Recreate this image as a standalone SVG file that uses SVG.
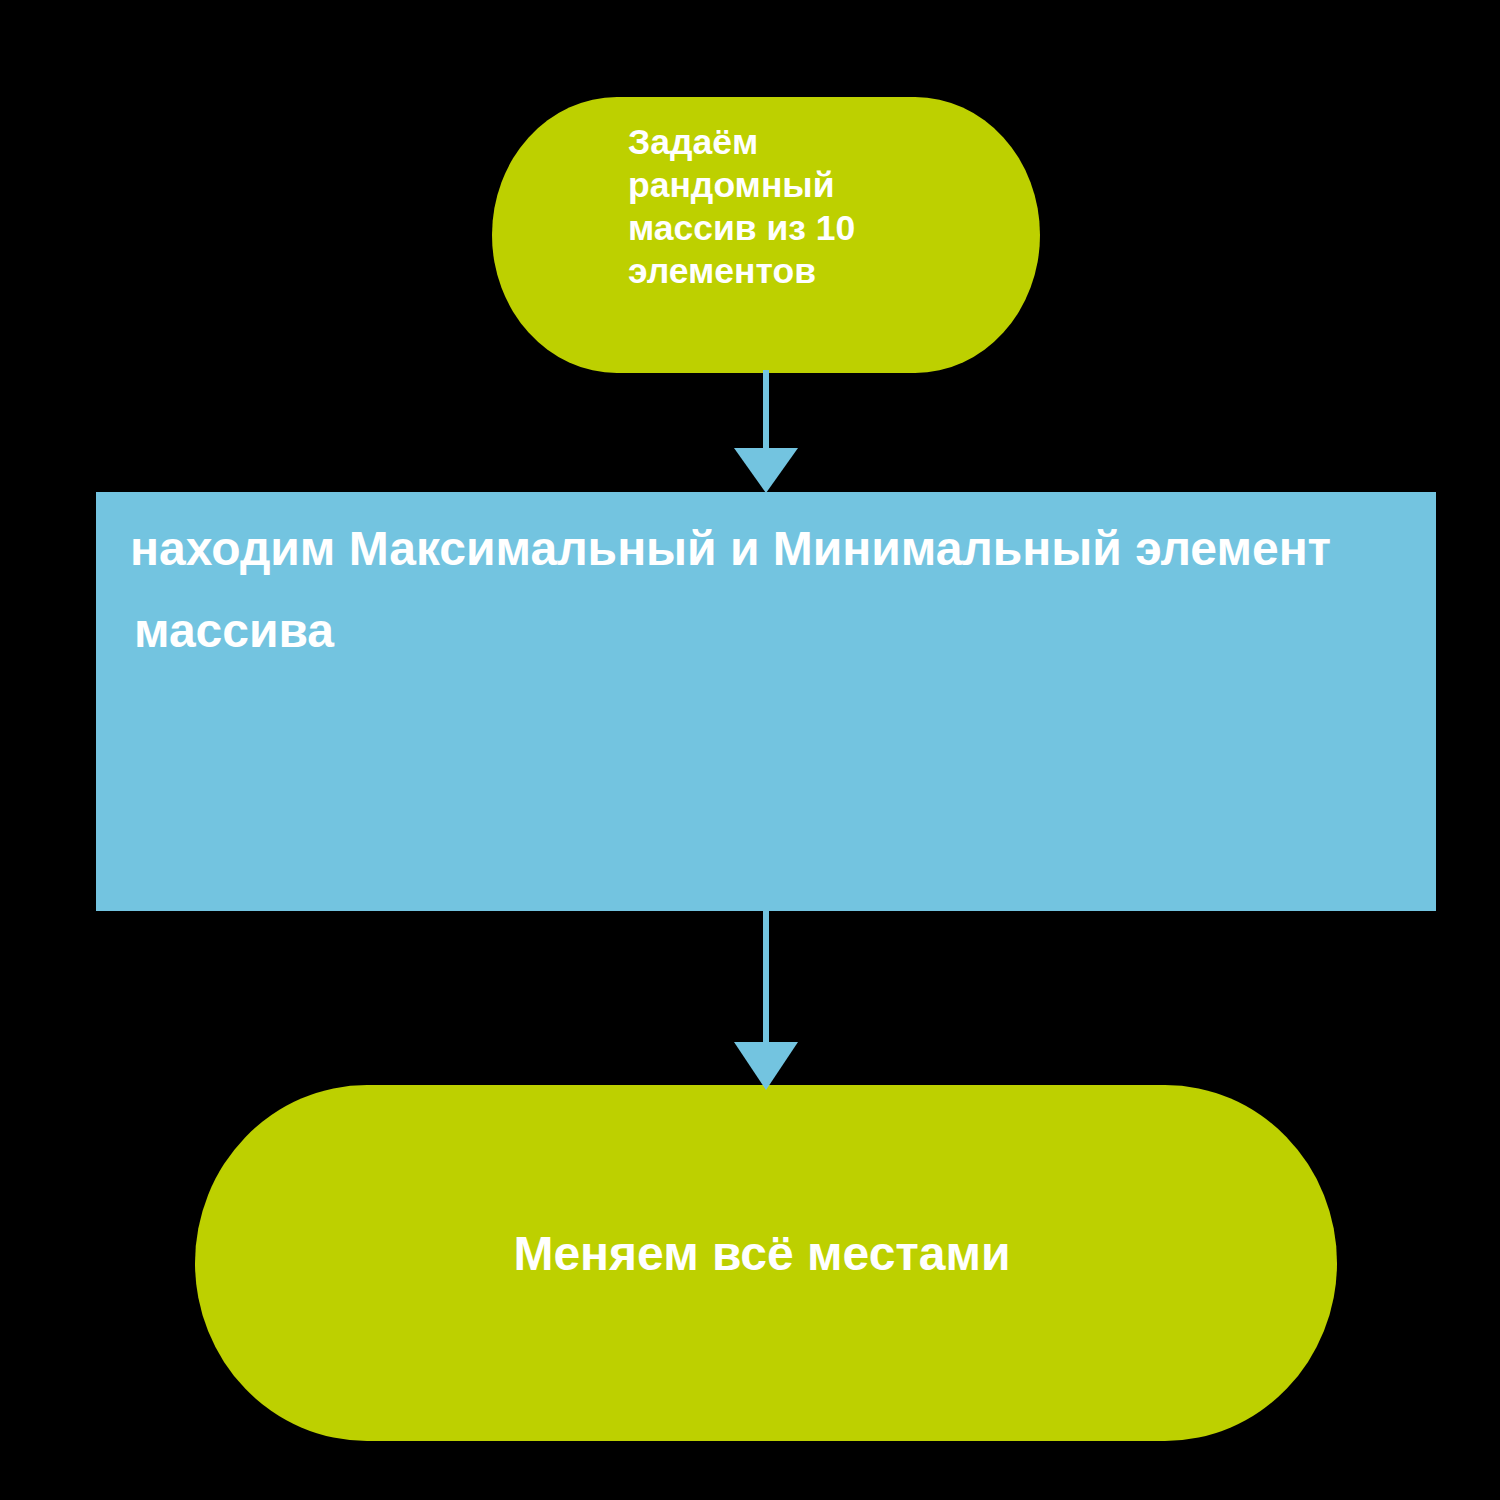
<svg xmlns="http://www.w3.org/2000/svg" width="1500" height="1500" viewBox="0 0 1500 1500">
<style>
.term{fill:#bdd000}
.proc{fill:#73c4e0}
.t{font-family:"Liberation Sans",Arial,sans-serif;font-weight:bold;fill:#ffffff}
.conn{stroke:#73c4e0;stroke-width:6;fill:none}
.head{fill:#73c4e0}
</style>
<rect width="1500" height="1500" fill="#000000"/>
<g id="node-start">
<rect class="term" x="492" y="97" width="548" height="276" rx="125" ry="138"/>
<text class="t" font-size="35.5" x="628"><tspan x="628" y="154">Задаём</tspan><tspan x="628" y="197">рандомный</tspan><tspan x="628" y="240">массив из 10</tspan><tspan x="628" y="283">элементов</tspan></text>
</g>
<g id="node-process">
<rect class="proc" x="96" y="492" width="1340" height="419"/>
<text class="t" font-size="48" x="130" y="565">находим Максимальный и Минимальный элемент</text>
<text class="t" font-size="48" x="134" y="647">массива</text>
</g>
<g id="node-end">
<rect class="term" x="195" y="1085" width="1142" height="356" rx="172" ry="178"/>
<text class="t" font-size="48" x="762" y="1270" text-anchor="middle">Меняем всё местами</text>
</g>
<g id="connectors">
<line class="conn" x1="766" y1="370" x2="766" y2="452"/>
<polygon class="head" points="734,448 798,448 766,493"/>
<line class="conn" x1="766" y1="911" x2="766" y2="1046"/>
<polygon class="head" points="734,1042 798,1042 766,1090"/>
</g>
</svg>
